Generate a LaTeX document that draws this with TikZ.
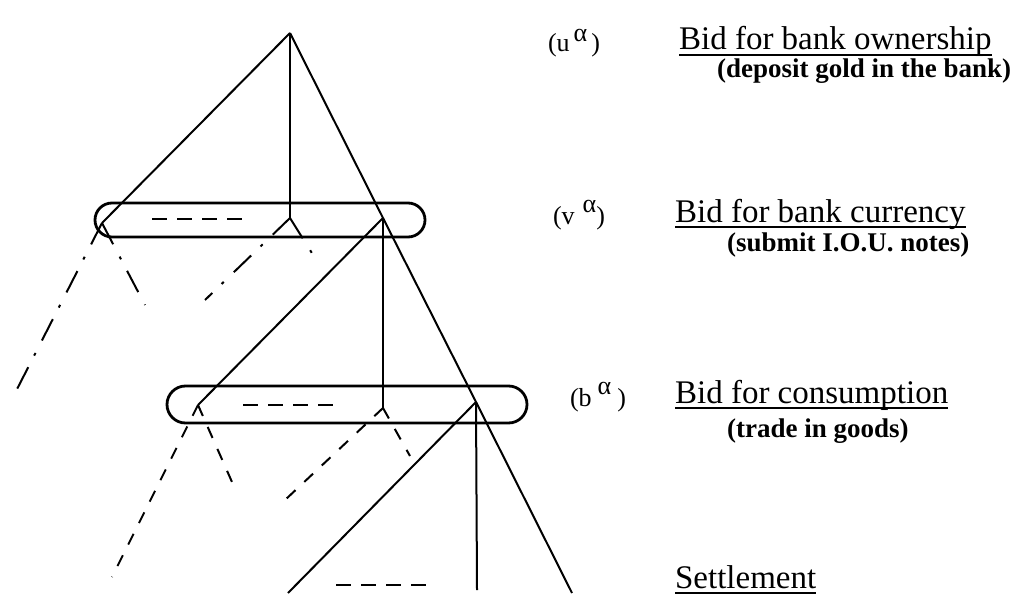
\documentclass[tikz,border=0pt]{standalone}
\usepackage{fontspec}
\setmainfont{Liberation Serif}
\usetikzlibrary{shapes.misc}
\newcommand{\bidline}[1]{\setbox0\hbox{#1}\rlap{\rule[-3pt]{\wd0}{1.1pt}}\box0}

\begin{document}
\begin{tikzpicture}[x=0.5pt,y=-0.5pt,
        branch/.style={line width=1pt},
        other/.style={line width=1pt, dash pattern=on 12pt off 7pt on 1.5pt off 6.5pt},
        otherdash/.style={line width=1pt, dash pattern=on 6pt off 6pt},
        infoset/.style={draw, rounded rectangle, line width=1.4pt, inner sep=0pt},
        tie/.style={line width=1.4pt, dash pattern=on 7.5pt off 5pt},
        stage/.style={anchor=base west, font=\fontsize{16.5}{19}\selectfont},
        note/.style={anchor=base west, font=\bfseries\fontsize{13.5}{16}\selectfont},
        var/.style={anchor=base west, font=\fontsize{13}{15}\selectfont}]
        \useasboundingbox (0,0) rectangle (1010,599);

        \node[infoset, minimum width=165pt, minimum height=17pt] (setv) at (260,220) {};
        \node[infoset, minimum width=180pt, minimum height=18.5pt] (setb) at (347,404.5) {};

        \coordinate (root) at (290,33);
        \coordinate (l1) at (102,223);
        \coordinate (m1) at (290,218);
        \coordinate (n1) at (383,218);
        \coordinate (l2) at (198,405);
        \coordinate (m2) at (383,408);
        \coordinate (n2) at (476,402);
        \coordinate (l3) at (288,593);
        \coordinate (m3) at (477,590);
        \coordinate (n3) at (572,593);

        \draw[branch] (root) -- (l1);
        \draw[branch] (root) -- (m1);
        \draw[branch] (root) -- (n1) -- (n2) -- (n3);
        \draw[branch] (n1) -- (l2);
        \draw[branch] (n1) -- (m2);
        \draw[branch] (n2) -- (l3);
        \draw[branch] (n2) -- (m3);

        \coordinate (l1a) at (13,397);
        \coordinate (l1b) at (145,305);
        \coordinate (m1a) at (205,300);
        \coordinate (m1b) at (315,258);
        \coordinate (l2a) at (112,577);
        \coordinate (l2b) at (232,482);
        \coordinate (m2a) at (285,500);
        \coordinate (m2b) at (410,456);
        \draw[other] (l1) -- (l1a);
        \draw[other] (l1) -- (l1b);
        \draw[other] (m1) -- (m1a);
        \draw[other] (m1) -- (m1b);
        \draw[otherdash] (l2) -- (l2a);
        \draw[otherdash] (l2) -- (l2b);
        \draw[otherdash] (m2) -- (m2a);
        \draw[otherdash] (m2) -- (m2b);

        \coordinate (v1) at (152,219);
        \coordinate (v2) at (242,219);
        \coordinate (b1) at (243,405);
        \coordinate (b2) at (333,405);
        \coordinate (s1) at (336,585);
        \coordinate (s2) at (426,585);
        \draw[tie] (v1) -- (v2);
        \draw[tie] (b1) -- (b2);
        \draw[tie] (s1) -- (s2);

        \node[var] (uvar) at (541,52) {(u\hspace{2pt}\raisebox{5pt}{α}\hspace{2pt})};
        \node[stage] (own) at (672,50) {\bidline{Bid for bank ownership}};
        \node[note] (dep) at (710,77) {(deposit gold in the bank)};

        \node[var] (vvar) at (546,224) {(v\hspace{4pt}\raisebox{6pt}{α})};
        \node[stage] (cur) at (668,222) {\bidline{Bid for bank currency}};
        \node[note] (iou) at (720,251) {(submit I.O.U. notes)};

        \node[var] (bvar) at (563,406) {(b\hspace{3pt}\raisebox{6pt}{α}\hspace{3pt})};
        \node[stage] (con) at (668,403) {\bidline{Bid for consumption}};
        \node[note] (trd) at (720,437) {(trade in goods)};

        \node[stage] (set) at (668,588) {\bidline{Settlement}};
    \end{tikzpicture}
\end{document}
